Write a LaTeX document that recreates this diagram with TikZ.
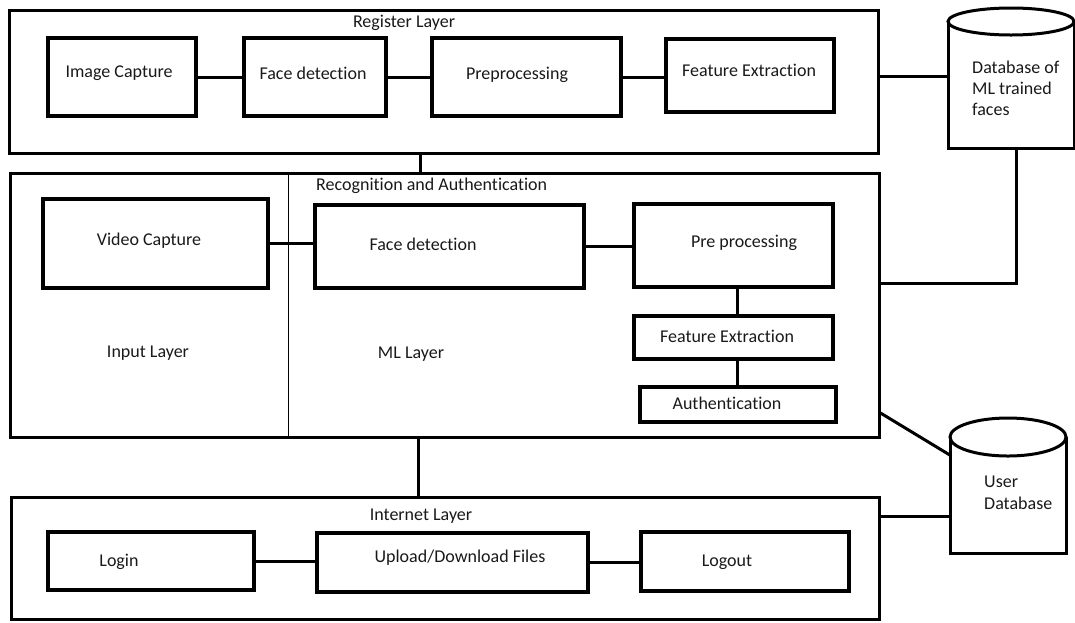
\documentclass[tikz,border=0pt]{standalone}
\usepackage{fontspec}
\setmainfont[Ligatures=NoCommon]{Carlito}
\usetikzlibrary{fit,calc}
\begin{document}
\begin{tikzpicture}[x=1pt,y=-1pt,
  layer/.style={draw, line width=3pt, inner sep=0pt},
  blk/.style={draw, line width=3.3pt, inner sep=0pt},
  ghost/.style={inner sep=0pt},
  lbl/.style={inner sep=0pt, font=\fontsize{18}{21}\selectfont, text=black!90},
  link/.style={line width=3pt},
  cyl/.style={line width=3pt},
  divider/.style={line width=1pt}]
\useasboundingbox (0,0) rectangle (1075,622);
% ---------- Register layer ----------
\node[layer, fit={(9,10) (878,153)}] (reg) {};
\node[lbl] (regt) at (404,23) {Register Layer};
\node[blk, fit={(48,38) (196,116)}] (ic) {};
\node[lbl] (ict) at (119,73) {Image Capture};
\node[blk, fit={(244,38) (386,116)}] (fd) {};
\node[lbl] (fdt) at (313,73) {Face detection};
\node[blk, fit={(432,38) (621,116)}] (pre) {};
\node[lbl] (pret) at (517,75) {Preprocessing};
\node[blk, fit={(666,39) (834,112)}] (fe) {};
\node[lbl] (fet) at (749,70) {Feature Extraction};
\draw[link] (ic.east) -- (ic.east -| fd.west);
\draw[link] (fd.east) -- (fd.east -| pre.west);
\draw[link] (pre.east) -- (pre.east -| fe.west);
% ---------- Database of ML trained faces ----------
\node[ghost, fit={(948,8) (1074,148)}] (db1) {};
\draw[cyl] (948,21.5) -- (948,148) -- (1074,148) -- (1074,21.5);
\draw[cyl] (1011,21.5) ellipse [x radius=63pt, y radius=13.5pt];
\node[lbl, anchor=north west, align=left] (db1t) at (972,61) {Database of\\ML trained\\faces};
\coordinate (r1) at (878,76);
\draw[link] (r1) -- (r1 -| db1.west);
% ---------- Recognition and Authentication ----------
\node[layer, fit={(10,173) (879,437)}] (rec) {};
\coordinate (dv) at (288,0);
\draw[divider] (rec.north -| dv) -- (rec.south -| dv);
\node[lbl, anchor=west] (rect) at (316,186) {Recognition and Authentication};
\coordinate (c1) at (420,0);
\draw[link] (reg.south -| c1) -- (rec.north -| c1);
\node[blk, fit={(43,199) (268,288)}] (vc) {};
\node[lbl] (vct) at (149,241) {Video Capture};
\node[blk, fit={(315,205) (584,288)}] (fd2) {};
\node[lbl] (fd2t) at (423,244) {Face detection};
\node[blk, fit={(634,204) (833,287)}] (pp) {};
\node[lbl] (ppt) at (744,243) {Pre processing};
\node[blk, fit={(634,316) (833,359)}] (fe2) {};
\node[lbl] (fe2t) at (727,336) {Feature Extraction};
\node[blk, fit={(640,387) (836,422)}] (auth) {};
\node[lbl] (autht) at (727,403) {Authentication};
\node[lbl] (inl) at (148,353) {Input Layer};
\node[lbl] (mll) at (411,354) {ML Layer};
\draw[link] (vc.east) -- (vc.east -| fd2.west);
\draw[link] (fd2.east) -- (fd2.east -| pp.west);
\coordinate (c5) at (737.5,0);
\draw[link] (pp.south -| c5) -- (fe2.north -| c5);
\draw[link] (fe2.south -| c5) -- (auth.north -| c5);
\coordinate (c2) at (1016,283);
\draw[link] (db1.south -| c2) |- (c2 -| rec.east);
% ---------- User database ----------
\node[ghost, fit={(950,418) (1066,553)}] (udb) {};
\draw[cyl] (950,437) -- (950,553) -- (1066,553) -- (1066,437);
\draw[cyl] (1008,437) ellipse [x radius=58pt, y radius=19pt];
\node[lbl, anchor=north west, align=left, font=\fontsize{18}{22}\selectfont] (udbt) at (984,476) {User\\Database};
\coordinate (d1) at (0,413);
\coordinate (d2) at (0,455);
\draw[link] (d1 -| rec.east) -- (d2 -| udb.west);
% ---------- Internet layer ----------
\node[layer, fit={(11,497) (879,619)}] (int) {};
\node[lbl] (intt) at (421,516) {Internet Layer};
\coordinate (c3) at (418,0);
\draw[link] (rec.south -| c3) -- (int.north -| c3);
\node[blk, fit={(48,532) (254,590)}] (login) {};
\node[lbl] (logint) at (119,562) {Login};
\node[blk, fit={(317,533) (588,592)}] (up) {};
\node[lbl] (upt) at (460,558) {Upload/Download Files};
\node[blk, fit={(641,532) (849,591)}] (logout) {};
\node[lbl] (logoutt) at (727,562) {Logout};
\draw[link] (login.east) -- (login.east -| up.west);
\draw[link] (up.east) -- (up.east -| logout.west);
\coordinate (c4) at (0,516);
\draw[link] (int.east |- c4) -- (udb.west |- c4);
\end{tikzpicture}
\end{document}
